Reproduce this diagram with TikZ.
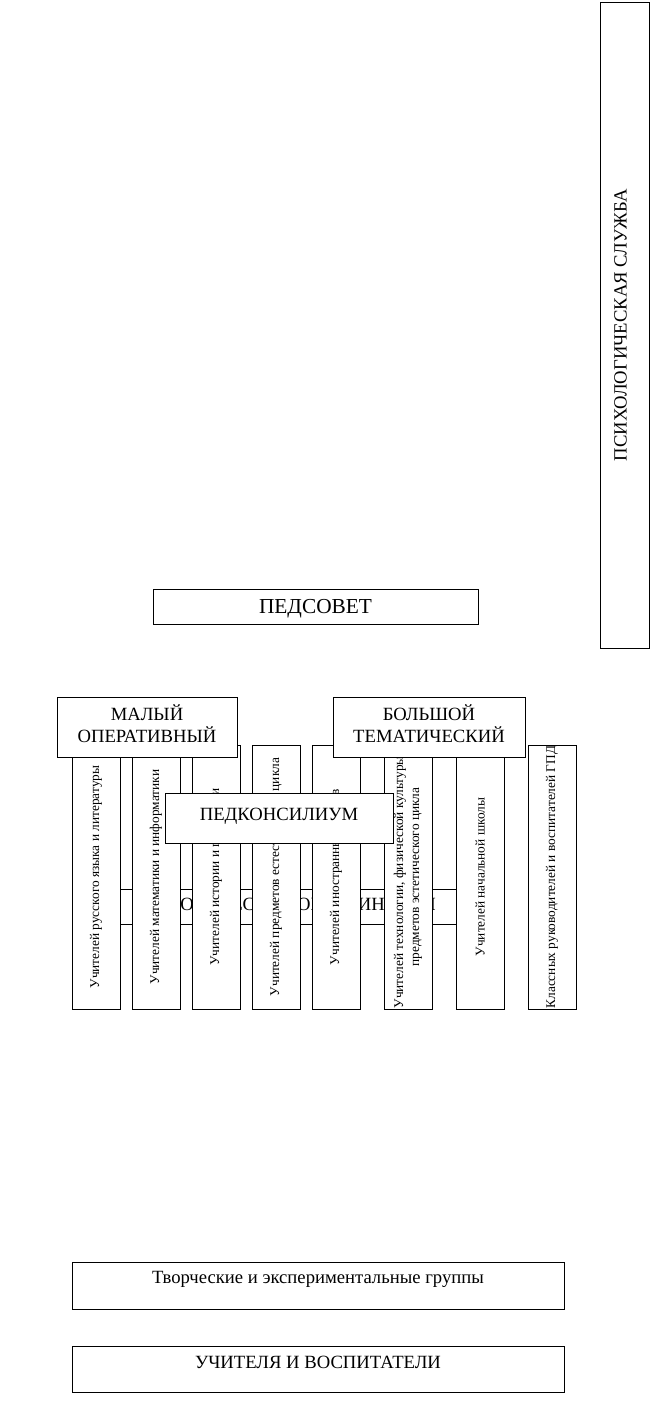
\documentclass[tikz,border=0pt]{standalone}
\usepackage{fontspec}
\setmainfont{Liberation Serif}

\begin{document}
\begin{tikzpicture}[x=0.75pt,y=-0.75pt,
  box/.style={draw,line width=0.75pt,fill=white,inner sep=0pt,align=center,
              font=\fontsize{14}{16.2}\selectfont},
  colbox/.style={box,rotate=90,minimum width=198pt,minimum height=36pt,
              font=\fontsize{10}{12}\selectfont}]
\useasboundingbox (0,0) rectangle (661,1406);
\node[box,rotate=90,minimum width=484.5pt,minimum height=36.75pt,
      text height=9.2pt,text depth=6pt] (psych) at (624.5,325) {ПСИХОЛОГИЧЕСКАЯ СЛУЖБА};
\node[box,minimum width=243.75pt,minimum height=26.25pt,font=\fontsize{16}{18}\selectfont,
      text height=10.6pt,text depth=0.3pt] (pedsovet) at (315.5,606.5) {ПЕДСОВЕТ};
\node[box,minimum width=252.75pt,minimum height=26.25pt,
      text height=9.2pt,text depth=2.5pt] (metod) at (288.5,906.5) {МЕТОДИЧЕСКИЕ ОБЪЕДИНЕНИЯ};
\foreach \x/\t [count=\i] in {96/{Учителей русского языка и литературы},
    156/{Учителей математики и информатики},
    216/{Учителей истории и географии},
    276/{Учителей предметов естественного цикла},
    336/{Учителей иностранных языков},
    408/{Учителей технологии, физической культуры и\\предметов эстетического цикла},
    480/{Учителей начальной школы},
    552/{Классных руководителей и воспитателей ГПД}}
  \node[colbox] (col\i) at (\x,877) {\t};
\node[box,minimum width=135pt,minimum height=45pt,font=\fontsize{14}{16.5}\selectfont,
      text depth=5pt] (maly) at (147,727) {МАЛЫЙ\\ОПЕРАТИВНЫЙ};
\node[box,minimum width=144pt,minimum height=45pt,font=\fontsize{14}{16.5}\selectfont,
      text depth=5pt] (bolshoy) at (429,727) {БОЛЬШОЙ\\ТЕМАТИЧЕСКИЙ};
\node[box,minimum width=171pt,minimum height=37.5pt,
      text height=9.2pt,text depth=6.2pt] (pedkons) at (279,818) {ПЕДКОНСИЛИУМ};
\node[box,minimum width=369pt,minimum height=35.25pt,
      text height=9.2pt,text depth=12.5pt] (tvorch) at (318,1285.5) {Творческие и экспериментальные группы};
\node[box,minimum width=369pt,minimum height=34.5pt,
      text height=9.2pt,text depth=10.3pt] (uchit) at (318,1369) {УЧИТЕЛЯ И ВОСПИТАТЕЛИ};
\end{tikzpicture}
\end{document}
